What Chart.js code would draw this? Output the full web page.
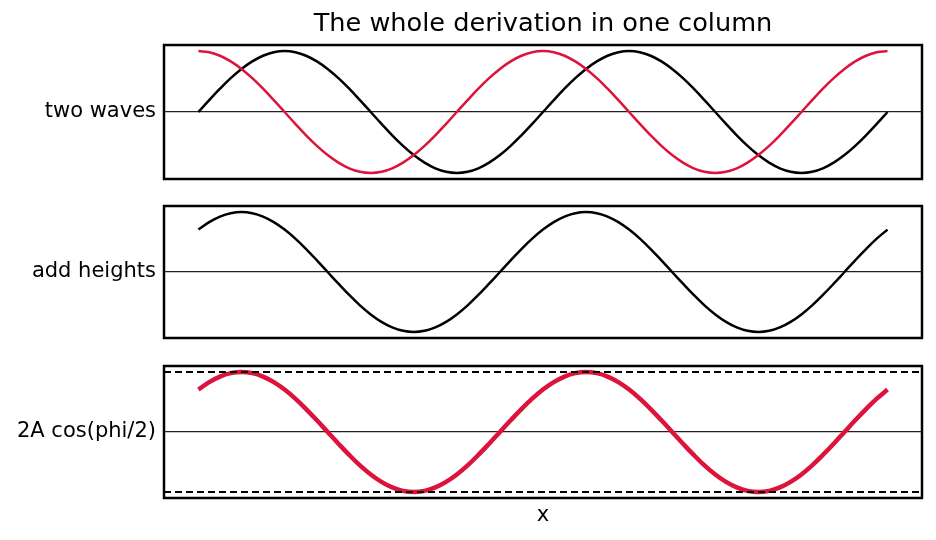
<!DOCTYPE html>
<html>
<head>
<meta charset="utf-8">
<title>The whole derivation in one column</title>
<script src="https://cdn.jsdelivr.net/npm/chart.js@4.4.1/dist/chart.umd.min.js"></script>
<style>
  body { margin: 0; background: #fff; }
  #wrap { position: relative; width: 936px; height: 540px; }
  #wrap canvas { position: absolute; left: 0; }
</style>
</head>
<body>
<div id="wrap">
  <canvas id="chartWaves" width="936" height="190" style="top:0px"></canvas>
  <canvas id="chartSum" width="936" height="160" style="top:190px"></canvas>
  <canvas id="chartEnvelope" width="936" height="190" style="top:350px"></canvas>
</div>
<script>
// Textos do gráfico
const titleText = 'The whole derivation in one column';
const panelLabels = ['two waves', 'add heights', '2A cos(phi/2)'];
const xLabel = 'x';

// Posições em x (duas voltas completas, passo de pi/16)
const xs = [0, 0.196, 0.393, 0.589, 0.785, 0.982, 1.178, 1.374, 1.571, 1.767, 1.963, 2.160, 2.356, 2.553, 2.749, 2.945,
            3.142, 3.338, 3.534, 3.731, 3.927, 4.123, 4.320, 4.516, 4.712, 4.909, 5.105, 5.301, 5.498, 5.694, 5.890, 6.087,
            6.283, 6.480, 6.676, 6.872, 7.069, 7.265, 7.461, 7.658, 7.854, 8.050, 8.247, 8.443, 8.639, 8.836, 9.032, 9.228,
            9.425, 9.621, 9.817, 10.014, 10.210, 10.407, 10.603, 10.799, 10.996, 11.192, 11.388, 11.585, 11.781, 11.977,
            12.174, 12.370, 12.566];

// Onda preta (começa em zero)
const waveA = [0, 0.195, 0.383, 0.556, 0.707, 0.831, 0.924, 0.981, 1, 0.981, 0.924, 0.831, 0.707, 0.556, 0.383, 0.195,
               0, -0.195, -0.383, -0.556, -0.707, -0.831, -0.924, -0.981, -1, -0.981, -0.924, -0.831, -0.707, -0.556, -0.383, -0.195,
               0, 0.195, 0.383, 0.556, 0.707, 0.831, 0.924, 0.981, 1, 0.981, 0.924, 0.831, 0.707, 0.556, 0.383, 0.195,
               0, -0.195, -0.383, -0.556, -0.707, -0.831, -0.924, -0.981, -1, -0.981, -0.924, -0.831, -0.707, -0.556, -0.383, -0.195,
               0];

// Onda vermelha (começa no topo)
const waveB = [1, 0.981, 0.924, 0.831, 0.707, 0.556, 0.383, 0.195, 0, -0.195, -0.383, -0.556, -0.707, -0.831, -0.924, -0.981,
               -1, -0.981, -0.924, -0.831, -0.707, -0.556, -0.383, -0.195, 0, 0.195, 0.383, 0.556, 0.707, 0.831, 0.924, 0.981,
               1, 0.981, 0.924, 0.831, 0.707, 0.556, 0.383, 0.195, 0, -0.195, -0.383, -0.556, -0.707, -0.831, -0.924, -0.981,
               -1, -0.981, -0.924, -0.831, -0.707, -0.556, -0.383, -0.195, 0, 0.195, 0.383, 0.556, 0.707, 0.831, 0.924, 0.981,
               1];

// Soma das alturas
const waveSum = [1, 1.176, 1.307, 1.387, 1.414, 1.387, 1.307, 1.176, 1, 0.786, 0.541, 0.276, 0, -0.276, -0.541, -0.786,
                 -1, -1.176, -1.307, -1.387, -1.414, -1.387, -1.307, -1.176, -1, -0.786, -0.541, -0.276, 0, 0.276, 0.541, 0.786,
                 1, 1.176, 1.307, 1.387, 1.414, 1.387, 1.307, 1.176, 1, 0.786, 0.541, 0.276, 0, -0.276, -0.541, -0.786,
                 -1, -1.176, -1.307, -1.387, -1.414, -1.387, -1.307, -1.176, -1, -0.786, -0.541, -0.276, 0, 0.276, 0.541, 0.786,
                 1];

// Envelope 2A cos(phi/2)
const envelope = 1.414;

// Limites dos eixos
const xMin = -0.628;
const xMax = 13.195;
const yLimWaves = 1.1;
const yLimSum = 1.556;

const CRIMSON = '#dc143c';
const FONT = 'DejaVu Sans';

function toPoints(values) {
    return xs.map((x, i) => ({ x: x, y: values[i] }));
}

// Moldura preta em volta da área do gráfico
const framePlugin = {
    id: 'frame',
    afterDatasetsDraw(chart) {
        const { ctx, chartArea: a } = chart;
        ctx.save();
        ctx.strokeStyle = '#000';
        ctx.lineWidth = 2.5;
        ctx.strokeRect(a.left, a.top, a.right - a.left, a.bottom - a.top);
        ctx.restore();
    }
};

function lineDataset(values, color, width) {
    return {
        data: toPoints(values),
        borderColor: color,
        borderWidth: width,
        borderJoinStyle: 'round',
        pointRadius: 0,
        fill: false,
        tension: 0.4
    };
}

function flatDataset(value) {
    return {
        data: [{ x: xMin, y: value }, { x: xMax, y: value }],
        borderColor: '#000',
        borderWidth: 2,
        borderDash: [7, 4],
        pointRadius: 0,
        fill: false
    };
}

function panelOptions(label, yLim, padding) {
    return {
        responsive: false,
        animation: false,
        layout: { padding: padding },
        plugins: {
            legend: { display: false },
            tooltip: { enabled: false },
            title: { display: false }
        },
        scales: {
            x: { type: 'linear', min: xMin, max: xMax, display: false },
            y: {
                type: 'linear',
                min: -yLim,
                max: yLim,
                afterFit(scale) {
                    // largura fixa e sem folga extra para o rótulo
                    scale.width = 164;
                    scale.paddingTop = 0;
                    scale.paddingBottom = 0;
                },
                afterBuildTicks(scale) { scale.ticks = [{ value: 0 }]; },
                ticks: {
                    callback: () => label,
                    color: '#000',
                    font: { family: FONT, size: 21 },
                    padding: 8
                },
                grid: { drawTicks: false, color: '#222', lineWidth: 1.2 },
                border: { display: false }
            }
        }
    };
}

function renderWaves() {
    const options = panelOptions(panelLabels[0], yLimWaves, { left: 0, right: 14, top: 0, bottom: 11 });
    options.plugins.title = {
        display: true,
        text: titleText,
        color: '#000',
        fullSize: false,
        font: { family: FONT, size: 25.6, weight: 'normal' },
        padding: { top: 8.5, bottom: 5.8 }
    };
    new Chart(document.getElementById('chartWaves'), {
        type: 'line',
        data: { datasets: [lineDataset(waveB, CRIMSON, 2.5), lineDataset(waveA, '#000', 2.5)] },
        options: options,
        plugins: [framePlugin]
    });
}

function renderSum() {
    new Chart(document.getElementById('chartSum'), {
        type: 'line',
        data: { datasets: [lineDataset(waveSum, '#000', 2.5)] },
        options: panelOptions(panelLabels[1], yLimSum, { left: 0, right: 14, top: 16, bottom: 12 }),
        plugins: [framePlugin]
    });
}

function renderEnvelope() {
    const options = panelOptions(panelLabels[2], yLimSum, { left: 0, right: 14, top: 16, bottom: 8.8 });
    options.scales.x = {
        type: 'linear',
        min: xMin,
        max: xMax,
        display: true,
        ticks: { display: false },
        grid: { display: false, drawTicks: false },
        border: { display: false },
        title: {
            display: true,
            text: xLabel,
            color: '#000',
            font: { family: FONT, size: 21 },
            padding: { top: 5, bottom: 3 }
        }
    };
    new Chart(document.getElementById('chartEnvelope'), {
        type: 'line',
        data: {
            datasets: [flatDataset(envelope), flatDataset(-envelope), lineDataset(waveSum, CRIMSON, 4.5)]
        },
        options: options,
        plugins: [framePlugin]
    });
}

renderWaves();
renderSum();
renderEnvelope();
</script>
</body>
</html>
